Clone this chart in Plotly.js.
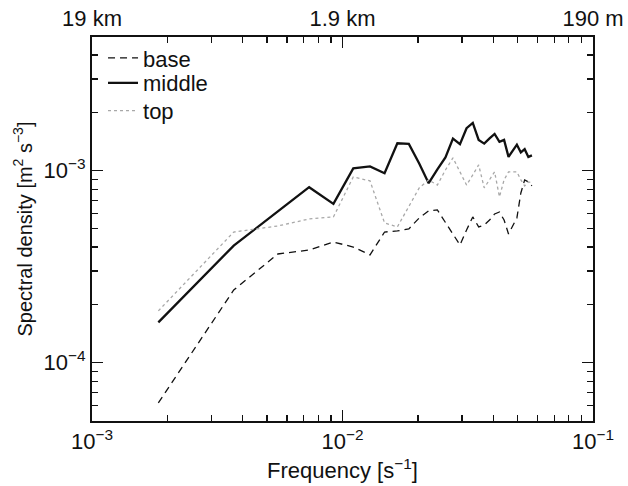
<!DOCTYPE html>
<html>
<head>
<meta charset="utf-8">
<script src="https://cdn.plot.ly/plotly-3.0.1.min.js"></script>
<style>html,body{margin:0;padding:0;background:#fff;}#chart{width:628px;height:486px;}</style>
</head>
<body>
<div id="chart"></div>
<script>
// Frequency [s^-1]
const freq = [0.00184, 0.00368, 0.00552, 0.00736, 0.0092, 0.01104, 0.01288, 0.01472, 0.01656, 0.0184,
  0.02024, 0.02208, 0.02392, 0.02576, 0.0276, 0.02944, 0.03128, 0.03312, 0.03496, 0.0368,
  0.03864, 0.04048, 0.04232, 0.04416, 0.046, 0.04784, 0.04968, 0.05152, 0.05336, 0.0552, 0.05704];
// Spectral density [m^2 s^-3]
const base = [6.17e-5, 2.39e-4, 3.68e-4, 3.86e-4, 4.25e-4, 4.00e-4, 3.64e-4, 4.79e-4, 4.85e-4, 4.97e-4,
  5.67e-4, 6.17e-4, 6.24e-4, 5.40e-4, 4.68e-4, 4.10e-4, 4.91e-4, 5.74e-4, 5.09e-4, 5.21e-4,
  5.53e-4, 5.95e-4, 6.09e-4, 5.53e-4, 4.68e-4, 5.15e-4, 5.67e-4, 7.65e-4, 8.95e-4, 8.73e-4, 8.33e-4];
const middle = [1.62e-4, 4.07e-4, 6.13e-4, 8.20e-4, 6.71e-4, 1.027e-3, 1.052e-3, 9.69e-4, 1.389e-3, 1.377e-3,
  1.090e-3, 8.60e-4, 1.015e-3, 1.171e-3, 1.468e-3, 1.374e-3, 1.663e-3, 1.772e-3, 1.445e-3, 1.382e-3,
  1.471e-3, 1.553e-3, 1.411e-3, 1.445e-3, 1.179e-3, 1.274e-3, 1.366e-3, 1.244e-3, 1.293e-3, 1.179e-3, 1.200e-3];
const top_ = [1.86e-4, 4.79e-4, 5.15e-4, 5.60e-4, 5.74e-4, 9.27e-4, 8.84e-4, 5.34e-4, 5.09e-4, 6.47e-4,
  8.13e-4, 8.95e-4, 8.41e-4, 1.008e-3, 1.165e-3, 9.85e-4, 8.41e-4, 9.50e-4, 1.071e-3, 8.13e-4,
  8.95e-4, 9.85e-4, 7.30e-4, 8.95e-4, 9.85e-4, 9.85e-4, 9.85e-4, 8.95e-4, 8.33e-4, 8.73e-4, 8.63e-4];
const seriesNames = ['base', 'middle', 'top'];

// Axis ticks
const xMajor = [0.001, 0.01, 0.1];
const xMajorText = ['10<sup>−3</sup>', '10<sup>−2</sup>', '10<sup>−1</sup>'];
const xMinor = [0.002,0.003,0.004,0.005,0.006,0.007,0.008,0.009,0.02,0.03,0.04,0.05,0.06,0.07,0.08,0.09];
const topText = ['19 km', '1.9 km', '190 m'];
const yMajor = [0.0001, 0.001];
const yMajorText = ['10<sup>−4</sup>', '10<sup>−3</sup>'];
const yMinor = [0.00006,0.00007,0.00008,0.00009,0.0002,0.0003,0.0004,0.0005,0.0006,0.0007,0.0008,0.0009,0.002,0.003,0.004,0.005];

const FONT = 'Liberation Sans, Arial, Helvetica, sans-serif';
const FS = 22;
const INK = '#111';

const traces = [
  {x: freq, y: base, name: seriesNames[0], legend: 'legend', mode: 'lines', line: {color: INK, width: 1.3, dash: '7px,5px'}},
  {x: freq, y: middle, name: seriesNames[1], legend: 'legend2', mode: 'lines', line: {color: INK, width: 2.3}},
  {x: freq, y: top_, name: seriesNames[2], legend: 'legend3', mode: 'lines', line: {color: '#a8a8a8', width: 1.3, dash: 'dot'}},
  // carriers for the top and right axes (no marks)
  {x: xMajor, y: [null, null, null], xaxis: 'x2', yaxis: 'y', mode: 'lines', showlegend: false, hoverinfo: 'skip'},
  {x: [null, null], y: yMajor, xaxis: 'x', yaxis: 'y2', mode: 'lines', showlegend: false, hoverinfo: 'skip'}
];

const minorX = {tickmode: 'array', tickvals: xMinor, ticks: 'inside', ticklen: 6, tickwidth: 1.3, tickcolor: INK, showgrid: false};
const minorY = {tickmode: 'array', tickvals: yMinor, ticks: 'inside', ticklen: 6, tickwidth: 1.3, tickcolor: INK, showgrid: false};

function legendAt(yc) {
  return {x: 0.022, y: yc, xanchor: 'left', yanchor: 'middle', bgcolor: 'rgba(0,0,0,0)',
          font: {family: FONT, size: FS, color: INK}};
}

const layout = {
  width: 628, height: 486,
  margin: {l: 92, r: 35, t: 37, b: 65, pad: 0},
  paper_bgcolor: '#fff', plot_bgcolor: '#fff',
  font: {family: FONT, size: FS, color: INK},
  showlegend: true,
  legend: legendAt(0.945),
  legend2: legendAt(0.880),
  legend3: legendAt(0.808),
  xaxis: {
    type: 'log', range: [-3, -1], autorange: false,
    tickmode: 'array', tickvals: xMajor, ticktext: xMajorText,
    ticks: 'inside', ticklen: 11, tickcolor: INK, tickwidth: 1.3,
    minor: minorX,
    showline: true, linewidth: 2, linecolor: INK, mirror: false,
    showgrid: false, zeroline: false,
    tickfont: {family: FONT, size: FS, color: INK},
    title: {text: 'Frequency [s<sup>−1</sup>]', font: {family: FONT, size: FS, color: INK}, standoff: 9}
  },
  xaxis2: {
    type: 'log', range: [-3, -1], autorange: false, overlaying: 'x', side: 'top', anchor: 'y',
    tickmode: 'array', tickvals: xMajor, ticktext: topText,
    ticks: 'inside', ticklen: 11, tickcolor: INK, tickwidth: 1.3,
    minor: minorX,
    showline: true, linewidth: 2, linecolor: INK,
    showgrid: false, zeroline: false,
    tickfont: {family: FONT, size: FS, color: INK}
  },
  yaxis: {
    type: 'log', range: [-4.304, -2.304], autorange: false,
    tickmode: 'array', tickvals: yMajor, ticktext: yMajorText,
    ticks: 'inside', ticklen: 11, tickcolor: INK, tickwidth: 1.3,
    minor: minorY,
    showline: true, linewidth: 2, linecolor: INK, mirror: false,
    showgrid: false, zeroline: false,
    tickfont: {family: FONT, size: FS, color: INK},
    title: {text: 'Spectral density [m<sup>2</sup> s<sup>−3</sup>]', font: {family: FONT, size: 20, color: INK}, standoff: 6}
  },
  yaxis2: {
    type: 'log', range: [-4.304, -2.304], autorange: false, overlaying: 'y', side: 'right', anchor: 'x',
    tickmode: 'array', tickvals: yMajor, showticklabels: false,
    ticks: 'inside', ticklen: 11, tickcolor: INK, tickwidth: 1.3,
    minor: minorY,
    showline: true, linewidth: 2, linecolor: INK,
    showgrid: false, zeroline: false
  }
};

Plotly.newPlot('chart', traces, layout, {displayModeBar: false, staticPlot: true});
</script>
</body>
</html>
